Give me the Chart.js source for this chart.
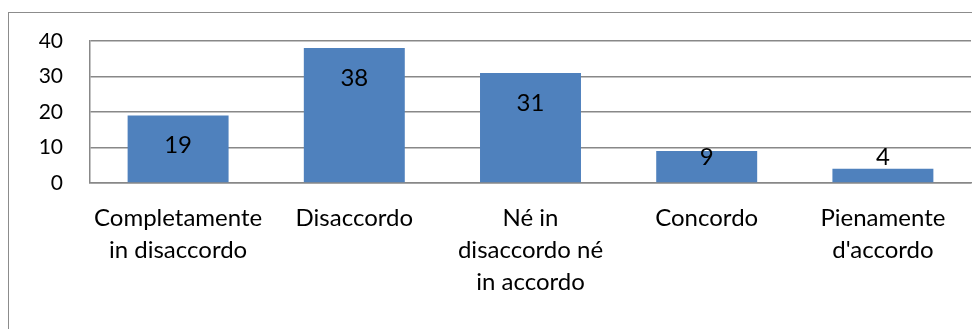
<!DOCTYPE html>
<html>
<head>
<meta charset="utf-8">
<script src="https://cdn.jsdelivr.net/npm/chart.js@4.4.0/dist/chart.umd.min.js"></script>
<style>
  html, body { margin: 0; padding: 0; background: #fff; overflow: hidden; }
  #wrap { position: relative; width: 972px; height: 329px; }
  #frame { position: absolute; left: 8px; top: 12px; right: -10px; bottom: -10px; border: 1.5px solid #8c8c8c; pointer-events: none; }
</style>
</head>
<body>
<div id="wrap">
  <canvas id="chart" width="972" height="329"></canvas>
  <div id="frame"></div>
</div>
<script>
const categorie = [
  ['Completamente', 'in disaccordo'],
  'Disaccordo',
  ['Né in', 'disaccordo né', 'in accordo'],
  'Concordo',
  ['Pienamente', "d'accordo"],
];
const risposte = [19, 38, 31, 9, 4];
const tickY = [0, 10, 20, 30, 40];

const font = 'Lato, "Open Sans", sans-serif';

// etichette dei valori dentro la barra, in alto
const valoriPlugin = {
  id: 'valori',
  afterDatasetsDraw(chart) {
    const { ctx } = chart;
    const zeroY = chart.scales.y.getPixelForValue(0);
    ctx.save();
    ctx.font = '24px ' + font;
    ctx.fillStyle = '#000';
    ctx.textAlign = 'center';
    ctx.textBaseline = 'middle';
    chart.getDatasetMeta(0).data.forEach((bar, i) => {
      const y = Math.min(bar.y + 30, zeroY - 26);
      ctx.fillText(String(risposte[i]), bar.x, y);
    });
    ctx.restore();
  },
};

new Chart(document.getElementById('chart'), {
  type: 'bar',
  data: {
    labels: categorie,
    datasets: [{
      data: risposte,
      backgroundColor: '#4F81BD',
      borderWidth: 0,
      barPercentage: 0.573,
      categoryPercentage: 1,
    }],
  },
  options: {
    responsive: false,
    animation: false,
    layout: { padding: { top: 41, right: 1, left: 0, bottom: 0 } },
    plugins: { legend: { display: false }, tooltip: { enabled: false } },
    scales: {
      x: {
        grid: { display: false, drawTicks: false },
        border: { color: '#888', width: 1.5 },
        ticks: { color: '#000', font: { family: font, size: 24, lineHeight: 1.33 }, padding: 19, maxRotation: 0, autoSkip: false },
        afterFit: (s) => { s.height = 146; },
      },
      y: {
        min: 0, max: 40,
        afterBuildTicks: (s) => { s.ticks = tickY.map(v => ({ value: v })); },
        grid: { color: '#888', lineWidth: 1.5, drawTicks: false },
        border: { color: '#888', width: 1.5 },
        ticks: { color: '#000', font: { family: font, size: 21 }, padding: 27 },
        afterFit: (s) => { s.width = 90; },
      },
    },
  },
  plugins: [valoriPlugin],
});
</script>
</body>
</html>
